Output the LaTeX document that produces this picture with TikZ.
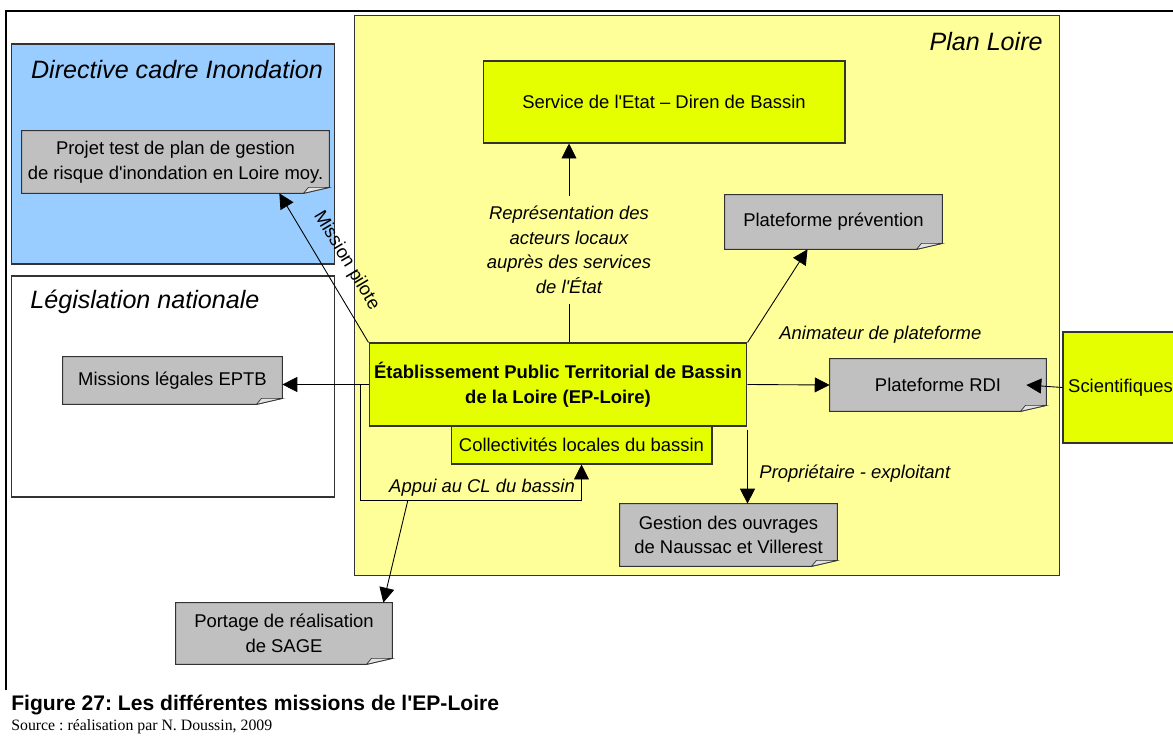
\documentclass[tikz,border=0pt]{standalone}
\usepackage{fontspec}
\setmainfont{Liberation Sans}
\newfontfamily\sourcefont{Liberation Serif}
\usepackage{tikz}
\usetikzlibrary{arrows.meta,positioning,backgrounds}
\definecolor{planyellow}{HTML}{FFFF99}
\definecolor{eplime}{HTML}{E6FF00}
\definecolor{dciblue}{HTML}{99CCFF}
\definecolor{notegray}{HTML}{C0C0C0}
\definecolor{foldgray}{HTML}{E2E2E2}
\definecolor{linegray}{HTML}{333333}
\pgfdeclarelayer{notes}
\pgfsetlayers{background,notes,main}
\frenchspacing
\newcommand{\bodyfont}{\fontsize{10.5}{14}\selectfont}
\newcommand{\titlefont}{\fontsize{14.3}{17}\selectfont}
\newcommand{\q}{\textquotesingle}
% grey note with folded corner
\newcommand{\dogear}[1]{%
  \begin{pgfonlayer}{notes}
    \filldraw[fill=notegray, draw=linegray, line width=0.6pt] (#1.north west) -- (#1.north east)
      -- ([yshift=3.4pt]#1.south east) -- ([xshift=-14.7pt]#1.south east) -- (#1.south west) -- cycle;
    \filldraw[fill=foldgray, draw=linegray, line width=0.4pt] ([xshift=-14.7pt]#1.south east)
      -- ([yshift=3.4pt]#1.south east) -- ([xshift=-11.9pt,yshift=3.4pt]#1.south east) -- cycle;
  \end{pgfonlayer}}

\begin{document}
\begin{tikzpicture}[x=0.02cm, y=-0.02cm,
    region/.style={draw=linegray, line width=0.6pt, inner sep=0pt},
    box/.style={draw=linegray, fill=eplime, line width=0.6pt, inner sep=2pt, align=center, font=\bodyfont},
    note/.style={inner sep=2pt, align=center, font=\bodyfont},
    lbl/.style={font=\bodyfont\itshape, align=center, inner sep=2pt},
    title/.style={font=\titlefont\itshape, inner sep=0pt},
    arr/.style={-{Triangle[length=8.5pt,width=8.5pt]}, line width=0.5pt, black}]
  \useasboundingbox (0,0) rectangle (1173,740);

  % Regions
  \begin{scope}[on background layer]
    \node[region, fill=dciblue, minimum width=6.48cm, minimum height=4.4cm] (dci) at (173,154) {};
    \node[region, fill=white, minimum width=6.48cm, minimum height=4.42cm] (legis) at (173,386.5) {};
    \node[region, fill=planyellow, minimum width=14.12cm, minimum height=11.22cm] (plan) at (707,295.5) {};
  \end{scope}
  \node[title] (dcititle) at (177,70) {Directive cadre Inondation};
  \node[title, anchor=west] (legistitle) at (30,302) {Législation nationale};
  \node[title, anchor=east] (plantitle) at (1043,42) {Plan Loire};

  % Frame
  \draw[line width=0.7pt] (6,690) -- (6,11) -- (1180,11);

  % Boxes
  \node[box, minimum width=7.24cm, minimum height=1.64cm] (svc) at (664,102) {Service de l\q Etat – Diren de Bassin};
  \node[box, minimum width=7.56cm, minimum height=1.66cm, font=\bodyfont\bfseries] (ep) at (558,384.5)
    {Établissement Public Territorial de Bassin\\de la Loire (EP-Loire)};
  \node[box, minimum width=5.22cm, minimum height=0.76cm] (coll) at (581.5,445) {Collectivités locales du bassin};
  \node[box, minimum width=2.3cm, minimum height=2.22cm] (sci) at (1120.5,387.5) {Scientifiques};

  % Notes
  \node[note, minimum width=6.14cm, minimum height=1.24cm] (projet) at (175.5,162)
    {Projet test de plan de gestion\\de risque d\q inondation en Loire moy.};
  \dogear{projet}
  \node[note, minimum width=4.34cm, minimum height=1.08cm] (prev) at (833.5,222) {Plateforme prévention};
  \dogear{prev}
  \node[note, minimum width=4.38cm, minimum height=0.94cm] (legales) at (172.5,380.5) {Missions légales EPTB};
  \dogear{legales}
  \node[note, minimum width=4.32cm, minimum height=1.04cm] (rdi) at (938,385) {Plateforme RDI};
  \dogear{rdi}
  \node[note, minimum width=4.34cm, minimum height=1.24cm] (gestion) at (728.5,535)
    {Gestion des ouvrages\\de Naussac et Villerest};
  \dogear{gestion}
  \node[note, minimum width=4.32cm, minimum height=1.22cm] (sage) at (284,633.5)
    {Portage de réalisation\\de SAGE};
  \dogear{sage}

  % Connectors
  \draw[arr] ([xshift=0.22cm]ep.north) -- node[lbl, fill=planyellow, inner ysep=6pt, pos=0.465]
    {Représentation des\\acteurs locaux\\auprès des services\\de l\q État} ([xshift=0.22cm]ep.north |- svc.south);
  \draw[arr] (ep.north west) -- node[sloped, above=8pt, pos=0.47, font=\bodyfont, inner sep=0pt] {Mission pilote}
    ([xshift=-1cm]projet.south east);
  \draw[arr] (ep.west) -- (ep.west -| legales.east);
  \draw[arr] ([xshift=-0.16cm]ep.west) -- ++(0,116)
    -| node[lbl, pos=0.275, above] {Appui au CL du bassin} coordinate[pos=0.107] (appui) (coll.south);
  \draw[arr] (appui) -- ([xshift=-0.18cm]sage.north east);
  \draw[arr] (ep.north east) -- ([xshift=-0.52cm]prev.south);
  \node[lbl, anchor=west] (animlbl) at ([xshift=0.56cm,yshift=0.16cm]ep.north east) {Animateur de plateforme};
  \draw[arr] (ep.east) -- (rdi.west);
  \draw[arr] (sci.west) -- ([xshift=-0.4cm]rdi.east);
  \draw[arr] ([yshift=-0.06cm]ep.south east) -- node[lbl, pos=0.6, anchor=west, xshift=0.16cm] {Propriétaire - exploitant}
    (ep.south east |- gestion.north);

  % Caption
  \node[anchor=west, inner sep=0pt, font=\fontsize{12}{14}\selectfont\bfseries] (caption) at (11,705)
    {Figure 27: Les différentes missions de l\q EP-Loire};
  \node[anchor=west, inner sep=0pt, font=\sourcefont\fontsize{9}{11}\selectfont] (source) at (11,727)
    {Source : réalisation par N. Doussin, 2009};
\end{tikzpicture}
\end{document}
